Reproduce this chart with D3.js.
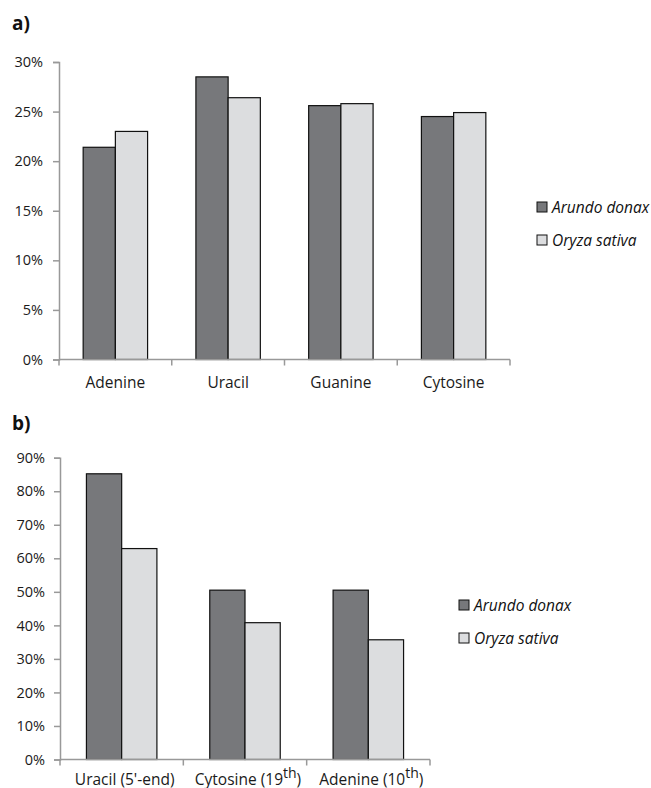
<!DOCTYPE html>
<html><head><meta charset="utf-8">
<script src="https://cdn.jsdelivr.net/npm/d3@7"></script>
<style>body{margin:0;background:#fff}svg{display:block}text{font-family:"Open Sans",sans-serif}</style>
</head><body>
<script>
const seriesNames = ["Arundo donax", "Oryza sativa"];
const seriesColors = ["#77787b", "#dcdddf"];

const categoriesA = ["Adenine", "Uracil", "Guanine", "Cytosine"];
const arundoA = [0.214, 0.285, 0.256, 0.245];
const oryzaA  = [0.230, 0.264, 0.258, 0.249];
const ticksA  = [0, 0.05, 0.10, 0.15, 0.20, 0.25, 0.30];

const categoriesB = ["Uracil (5'-end)", "Cytosine (19th)", "Adenine (10th)"];
const arundoB = [0.852, 0.505, 0.505];
const oryzaB  = [0.629, 0.408, 0.357];
const ticksB  = [0, 0.1, 0.2, 0.3, 0.4, 0.5, 0.6, 0.7, 0.8, 0.9];

const W = 651, H = 788;
const svg = d3.select("body").append("svg").attr("width", W).attr("height", H);

function panel(cfg) {
  const g = svg.append("g");
  g.append("text").attr("x", cfg.titleX).attr("y", cfg.titleY)
    .attr("font-size", 19).attr("font-weight", "bold").attr("fill", "#111").text(cfg.title);

  const x = d3.scaleBand().domain(cfg.categories).range([cfg.x0, cfg.x1]).paddingInner(0).paddingOuter(0);
  const y = d3.scaleLinear().domain([0, cfg.ymax]).range([cfg.y0, cfg.y1]);
  const inner = d3.scaleBand().domain(seriesNames).range([0, x.bandwidth()]).paddingInner(0).paddingOuter(0.75);

  // y axis
  const yAxis = d3.axisLeft(y).tickValues(cfg.ticks).tickFormat(d3.format(".0%")).tickSize(6).tickPadding(cfg.tickPad);
  const ya = g.append("g").attr("transform", `translate(${cfg.x0},0)`).call(yAxis);
  ya.select(".domain").attr("stroke", "#999").attr("stroke-width", 1.5);
  ya.selectAll(".tick line").attr("stroke", "#999").attr("stroke-width", 1.5);
  ya.selectAll(".tick text").attr("font-size", 14.5).attr("fill", "#1a1a1a")
    .attr("font-family", "'Open Sans', sans-serif");

  // bars
  const data = cfg.categories.map((c, i) => ({c, vals: [cfg.s1[i], cfg.s2[i]]}));
  const grp = g.selectAll(".grp").data(data).join("g").attr("transform", d => `translate(${x(d.c)},0)`);
  grp.selectAll("rect").data(d => d.vals.map((v, k) => ({v, k})))
    .join("rect")
    .attr("x", d => inner(seriesNames[d.k]))
    .attr("width", inner.bandwidth())
    .attr("y", d => y(d.v))
    .attr("height", d => y(0) - y(d.v))
    .attr("fill", d => seriesColors[d.k])
    .attr("stroke", "#111").attr("stroke-width", 1.2);

  // x axis
  const xa = g.append("g").attr("transform", `translate(0,${cfg.y0})`);
  xa.append("line").attr("x1", cfg.x0).attr("x2", cfg.x1).attr("stroke", "#999").attr("stroke-width", 1.5);
  const bounds = cfg.categories.map(c => x(c)).concat([cfg.x1]);
  xa.selectAll(".xt").data(bounds).join("line")
    .attr("x1", d => d).attr("x2", d => d).attr("y1", 0).attr("y2", 6)
    .attr("stroke", "#999").attr("stroke-width", 1.5);
  xa.selectAll(".xl").data(cfg.categories).join("text")
    .attr("x", d => x(d) + x.bandwidth() / 2 + cfg.labelShift)
    .attr("y", cfg.labelDy).attr("text-anchor", "middle")
    .attr("font-size", 15.5).attr("fill", "#1a1a1a")
    .each(function(d) {
      const t = d3.select(this);
      const m = d.match(/^(.*?)(\d+)(th)\)$/);
      if (m) {
        t.append("tspan").text(m[1] + m[2]);
        t.append("tspan").attr("dy", -7).attr("font-size", 14).text(m[3]);
        t.append("tspan").attr("dy", 7).text(")");
      } else t.text(d);
    });

  // legend
  const lg = g.append("g").attr("transform", `translate(${cfg.legX},${cfg.legY})`);
  seriesNames.forEach((s, k) => {
    lg.append("rect").attr("x", 0).attr("y", k * 33).attr("width", 10).attr("height", 10)
      .attr("fill", seriesColors[k]).attr("stroke", "#111").attr("stroke-width", 1);
    lg.append("text").attr("x", 15).attr("y", k * 33 + 10.5)
      .attr("font-size", 15.5).attr("font-style", "italic").attr("fill", "#111").text(s);
  });
}

panel({
  title: "a)", titleX: 12, titleY: 30,
  categories: categoriesA, s1: arundoA, s2: oryzaA, ticks: ticksA, ymax: 0.30,
  x0: 59, x1: 510, y0: 359.5, y1: 62, labelDy: 28, labelShift: 0, tickPad: 10,
  legX: 537, legY: 202
});
panel({
  title: "b)", titleX: 12, titleY: 430,
  categories: categoriesB, s1: arundoB, s2: oryzaB, ticks: ticksB, ymax: 0.90,
  x0: 60, x1: 430, y0: 759.5, y1: 457.7, labelDy: 25, labelShift: 3, tickPad: 9,
  legX: 459, legY: 600
});
</script>
</body></html>
